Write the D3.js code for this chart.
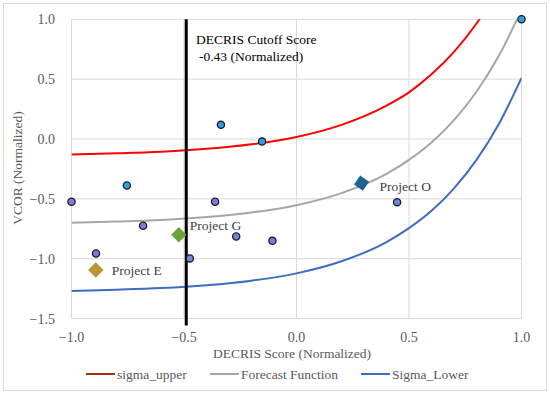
<!DOCTYPE html>
<html>
<head>
<meta charset="utf-8">
<script src="https://cdn.jsdelivr.net/npm/d3@7"></script>
<style>
  body { margin: 0; background: #fff; }
  text { font-family: "Liberation Serif", "DejaVu Serif", serif; }
</style>
</head>
<body>
<svg id="chart" width="550" height="396"></svg>
<script>
// projects above the forecast curve (light blue) and below it (periwinkle)
const aboveX = [-0.754, -0.336, -0.153, 1.0];
const aboveY = [-0.389, 0.118, -0.022, 1.0];
const belowX = [-1.0, -0.362, -0.682, -0.891, -0.474, -0.268, -0.107, 0.447];
const belowY = [-0.525, -0.525, -0.725, -0.957, -0.998, -0.815, -0.851, -0.528];

// highlighted projects
const projNames = ["Project O", "Project G", "Project E"];
const projX = [0.289, -0.523, -0.892];
const projY = [-0.369, -0.80, -1.095];
const projColors = ["#1f6391", "#6aa23c", "#b8982c"];

// curves
const curveX = [-1.0, -0.8, -0.6, -0.4, -0.2, 0.0, 0.2, 0.4, 0.5, 0.6, 0.7, 0.8, 0.9, 1.0];
const forecastY = [-0.70, -0.69, -0.676, -0.652, -0.614, -0.553, -0.452, -0.291, -0.175, -0.03, 0.158, 0.395, 0.697, 1.08];
const upperY = [-0.13, -0.12, -0.106, -0.082, -0.044, 0.017, 0.118, 0.279, 0.39, 0.54, 0.728, 0.965, 1.267, 1.65];
const lowerY = [-1.27, -1.26, -1.246, -1.222, -1.184, -1.123, -1.022, -0.861, -0.745, -0.60, -0.412, -0.175, 0.127, 0.51];

const cutoff = -0.49;
const xTicks = [-1.0, -0.5, 0.0, 0.5, 1.0];
const yTicks = [1.0, 0.5, 0.0, -0.5, -1.0, -1.5];

const legendNames = ["sigma_upper", "Forecast Function", "Sigma_Lower"];
const legendColors = ["#a0320c", "#a6a6a6", "#3d6dc4"];

const svg = d3.select("#chart");

svg.append("rect")
    .attr("x", 3.5).attr("y", 3.5)
    .attr("width", 543).attr("height", 387)
    .attr("fill", "#fff")
    .attr("stroke", "#d9d9d9");

const x = d3.scaleLinear().domain([-1, 1]).range([71.5, 521.5]);
const y = d3.scaleLinear().domain([-1.5, 1]).range([318.5, 19.3]);

// grid
svg.append("g")
    .attr("stroke", "#d9d9d9")
    .selectAll("line.h")
    .data(yTicks)
    .join("line")
    .attr("x1", x(-1)).attr("x2", x(1))
    .attr("y1", d => y(d)).attr("y2", d => y(d));

svg.append("g")
    .attr("stroke", "#d9d9d9")
    .selectAll("line.v")
    .data(xTicks)
    .join("line")
    .attr("x1", d => x(d)).attr("x2", d => x(d))
    .attr("y1", y(1)).attr("y2", y(-1.5));

// tick labels
svg.append("g")
    .selectAll("text")
    .data(yTicks)
    .join("text")
    .attr("x", 55)
    .attr("y", d => y(d) + 5)
    .attr("text-anchor", "end")
    .attr("font-size", 14)
    .attr("fill", "#595959")
    .text(d => d3.format(".1f")(d));

svg.append("g")
    .selectAll("text")
    .data(xTicks)
    .join("text")
    .attr("x", d => x(d))
    .attr("y", 342)
    .attr("text-anchor", "middle")
    .attr("font-size", 14)
    .attr("fill", "#595959")
    .text(d => d3.format(".1f")(d));

// axis titles
svg.append("text")
    .attr("x", 292).attr("y", 358)
    .attr("text-anchor", "middle")
    .attr("font-size", 13.5)
    .attr("fill", "#595959")
    .text("DECRIS Score (Normalized)");

svg.append("text")
    .attr("transform", "translate(22,168) rotate(-90)")
    .attr("text-anchor", "middle")
    .attr("font-size", 13.5)
    .attr("fill", "#595959")
    .text("VCOR (Normalized)");

// curves
svg.append("clipPath").attr("id", "plot")
  .append("rect")
    .attr("x", x(-1)).attr("y", y(1))
    .attr("width", x(1) - x(-1)).attr("height", y(-1.5) - y(1));

const line = d3.line()
    .x(d => x(d[0]))
    .y(d => y(d[1]))
    .curve(d3.curveMonotoneX);

const curves = [
  { ys: upperY, color: "#ff0000" },
  { ys: forecastY, color: "#a6a6a6" },
  { ys: lowerY, color: "#3d6dc4" }
];

svg.append("g")
    .attr("clip-path", "url(#plot)")
    .selectAll("path")
    .data(curves)
    .join("path")
    .attr("fill", "none")
    .attr("stroke", d => d.color)
    .attr("stroke-width", 2)
    .attr("d", d => line(curveX.map((v, i) => [v, d.ys[i]])));

// cutoff line
svg.append("line")
    .attr("x1", x(cutoff)).attr("x2", x(cutoff))
    .attr("y1", y(1)).attr("y2", y(-1.5) + 7)
    .attr("stroke", "#000")
    .attr("stroke-width", 3);

svg.append("text")
    .attr("x", 196).attr("y", 44)
    .attr("font-size", 13.5)
    .attr("fill", "#000")
    .text("DECRIS Cutoff Score");

svg.append("text")
    .attr("x", 199).attr("y", 61)
    .attr("font-size", 13.5)
    .attr("fill", "#000")
    .text("-0.43 (Normalized)");

// points
svg.append("g")
    .selectAll("circle")
    .data(aboveX.map((v, i) => [v, aboveY[i]]))
    .join("circle")
    .attr("cx", d => x(d[0]))
    .attr("cy", d => y(d[1]))
    .attr("r", 3.6)
    .attr("fill", "#2ba3d8")
    .attr("stroke", "#1a1a33")
    .attr("stroke-width", 1.3);

svg.append("g")
    .selectAll("circle")
    .data(belowX.map((v, i) => [v, belowY[i]]))
    .join("circle")
    .attr("cx", d => x(d[0]))
    .attr("cy", d => y(d[1]))
    .attr("r", 3.6)
    .attr("fill", "#7a80d4")
    .attr("stroke", "#1a1a33")
    .attr("stroke-width", 1.3);

// highlighted projects
const labelDx = [18, 11, 16];
const labelDy = [8, -5, 5];
const proj = svg.append("g")
    .selectAll("g")
    .data(projNames)
    .join("g")
    .attr("transform", (d, i) => `translate(${x(projX[i])},${y(projY[i])})`);

proj.append("path")
    .attr("d", d3.symbol(d3.symbolDiamond2, 150))
    .attr("transform", (d, i) => i === 0 ? "rotate(-10)" : null)
    .attr("fill", (d, i) => projColors[i]);

proj.append("text")
    .attr("x", (d, i) => labelDx[i])
    .attr("y", (d, i) => labelDy[i])
    .attr("font-size", 13.5)
    .attr("fill", "#404040")
    .text(d => d);

// legend
const legendX = [86, 210, 361];
const legend = svg.append("g")
    .selectAll("g")
    .data(legendNames)
    .join("g")
    .attr("transform", (d, i) => `translate(${legendX[i]},374)`);

legend.append("line")
    .attr("x1", 0).attr("x2", 29)
    .attr("stroke", (d, i) => legendColors[i])
    .attr("stroke-width", 2);

legend.append("text")
    .attr("x", 31).attr("y", 4.5)
    .attr("font-size", 13.5)
    .attr("fill", "#595959")
    .text(d => d);
</script>
</body>
</html>
